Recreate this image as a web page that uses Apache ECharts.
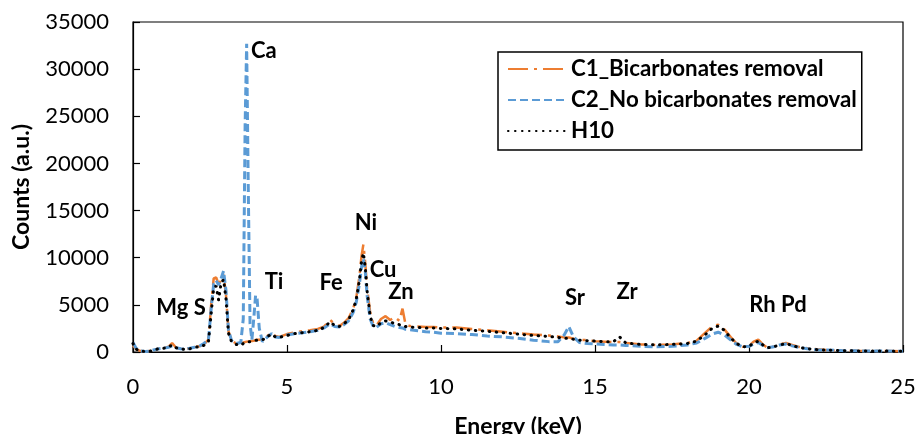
<!DOCTYPE html>
<html>
<head>
<meta charset="utf-8">
<script src="https://cdn.jsdelivr.net/npm/echarts@6/dist/echarts.min.js"></script>
<style>
  html, body { margin: 0; padding: 0; background: #fff; }
  #chart { width: 919px; height: 434px; }
</style>
</head>
<body>
<div id="chart"></div>
<script>
// EDXRF spectra: energy (keV) grid shared by the three samples
const energy = [
  0, 0.1, 0.25, 0.4, 0.55, 0.7, 0.85, 1.0, 1.15, 1.27,
  1.4, 1.55, 1.7, 1.85, 2.0, 2.15, 2.3, 2.45, 2.55, 2.62,
  2.7, 2.78, 2.86, 2.94, 3.02, 3.1, 3.2, 3.35, 3.5, 3.58,
  3.64, 3.69, 3.74, 3.8, 3.86, 3.92, 3.98, 4.03, 4.1, 4.2,
  4.3, 4.4, 4.5, 4.62, 4.75, 5.0, 5.25, 5.5, 5.75, 6.0,
  6.2, 6.4, 6.55, 6.7, 6.85, 7.0, 7.15, 7.25, 7.35, 7.42,
  7.48, 7.54, 7.6, 7.7, 7.8, 7.9, 8.05, 8.2, 8.35, 8.5,
  8.65, 8.75, 8.85, 9.0, 9.25, 9.5, 9.75, 10.0, 10.5, 11.0,
  11.5, 12.0, 12.5, 13.0, 13.5, 13.8, 14.0, 14.15, 14.3, 14.5,
  14.75, 15.0, 15.3, 15.6, 15.8, 16.0, 16.5, 17.0, 17.5, 18.0,
  18.3, 18.6, 18.8, 19.0, 19.2, 19.4, 19.6, 19.8, 20.0, 20.15,
  20.3, 20.45, 20.6, 20.8, 21.0, 21.2, 21.4, 21.6, 21.9, 22.2,
  22.5, 23.0, 23.5, 24.0, 24.5, 25.0
];

// C1_Bicarbonates removal
const countsC1 = [
  700, 300, 100, 50, 100, 300, 350, 400, 550, 950,
  450, 350, 300, 400, 550, 600, 800, 1300, 5500, 7800,
  7900, 7200, 7600, 8200, 6000, 2200, 1200, 900, 900, 1000,
  1050, 1100, 1100, 1150, 1200, 1200, 1250, 1300, 1300, 1350,
  1500, 1800, 2000, 1700, 1600, 1900, 2100, 2200, 2300, 2450,
  2700, 3400, 2950, 2750, 3100, 3600, 4600, 5800, 8000, 10200,
  11400, 9500, 6800, 4200, 3000, 2800, 3500, 3800, 3400, 3700,
  3300, 4600, 2900, 2750, 2700, 2650, 2650, 2600, 2600, 2450,
  2300, 2150, 2000, 1850, 1750, 1650, 1550, 1550, 1400, 1300,
  1250, 1150, 1100, 1050, 1050, 950, 800, 750, 800, 950,
  1200, 2100, 2700, 2900, 2400, 1600, 900, 550, 650, 1100,
  1300, 800, 450, 550, 800, 950, 750, 550, 400, 300,
  200, 150, 120, 100, 100, 80
];

// C2_No bicarbonates removal
const countsC2 = [
  1000, 400, 100, 50, 100, 250, 350, 400, 500, 650,
  450, 350, 300, 400, 500, 600, 900, 1300, 5000, 7200,
  7600, 7100, 7800, 8600, 6500, 2300, 1200, 900, 1000, 3500,
  24000, 32700, 18000, 3000, 1300, 3500, 6000, 5600, 2500, 1100,
  1400, 1700, 1950, 1600, 1550, 1800, 1950, 2050, 2150, 2300,
  2550, 3000, 2700, 2650, 2900, 3300, 4200, 5300, 7200, 9000,
  9900, 8600, 6000, 3500, 2700, 2600, 3000, 3100, 2900, 2700,
  2600, 2550, 2400, 2350, 2250, 2150, 2100, 2000, 1950, 1850,
  1700, 1600, 1450, 1250, 1100, 1100, 1800, 2700, 1600, 1000,
  900, 850, 800, 750, 750, 700, 600, 550, 600, 750,
  950, 1500, 1900, 2100, 1800, 1300, 800, 550, 600, 850,
  1000, 700, 450, 550, 750, 850, 650, 500, 350, 250,
  200, 150, 120, 100, 100, 80
];

// H10
const countsH10 = [
  900, 300, 100, 50, 80, 250, 350, 400, 500, 750,
  450, 350, 250, 350, 500, 550, 700, 1100, 4500, 6800,
  7000, 5500, 7300, 7700, 5600, 2000, 1100, 800, 700, 900,
  1000, 1050, 1100, 1100, 1150, 1200, 1200, 1250, 1250, 1300,
  1400, 1700, 1900, 1600, 1550, 1750, 1950, 2050, 2150, 2300,
  2600, 3200, 2800, 2700, 3000, 3400, 4500, 5600, 7600, 9600,
  10500, 9000, 6500, 3800, 2800, 2700, 3100, 3300, 3200, 3000,
  2900, 2900, 2700, 2650, 2600, 2550, 2550, 2500, 2450, 2300,
  2200, 2050, 1900, 1750, 1650, 1550, 1450, 1450, 1350, 1250,
  1200, 1150, 1100, 1100, 1600, 950, 800, 750, 800, 900,
  1150, 1900, 2500, 2750, 2300, 1500, 900, 550, 600, 950,
  1150, 750, 450, 550, 750, 900, 700, 500, 350, 250,
  200, 150, 120, 100, 100, 80
];

// Element annotations: name, energy position, count position
const peakNames  = ['Ca', 'Ti', 'Mg S', 'Fe', 'Ni', 'Cu', 'Zn', 'Sr', 'Zr', 'Rh Pd'];
const peakEnergy = [4.25, 4.58, 1.56, 6.43, 7.56, 8.12, 8.7, 14.35, 16.04, 20.94];
const peakCounts = [31900, 7420, 4670, 7300, 13680, 8700, 6360, 5730, 6360, 4980];

const seriesNames = ['C1_Bicarbonates removal', 'C2_No bicarbonates removal', 'H10'];

const FONT = 'Lato';
const pair = arr => energy.map((e, i) => [e, arr[i]]);

const chart = echarts.init(document.getElementById('chart'), null, { renderer: 'canvas' });

chart.setOption({
  animation: false,
  backgroundColor: '#fff',
  grid: {
    left: 133, right: 16, top: 22, bottom: 82,
    outerBoundsMode: 'none',
    show: true, borderColor: '#000', borderWidth: 1.2
  },
  legend: {
    data: seriesNames,
    orient: 'vertical',
    left: 498, top: 52,
    padding: [6, 5, 8, 9],
    itemWidth: 58, itemHeight: 14, itemGap: 9,
    borderColor: '#000', borderWidth: 1.5,
    itemStyle: { opacity: 0 },
    lineStyle: { opacity: 1 },
    textStyle: { fontFamily: FONT, fontWeight: 'bold', fontSize: 22.3, color: '#000' }
  },
  xAxis: {
    type: 'value', min: 0, max: 25, interval: 5,
    name: 'Energy (keV)', nameLocation: 'middle', nameGap: 63,
    nameTextStyle: { fontFamily: FONT, fontWeight: 'bold', fontSize: 23, color: '#000' },
    axisLine: { lineStyle: { color: '#000', width: 1.2 } },
    axisTick: { inside: true, length: 7, lineStyle: { color: '#000', width: 1.2 } },
    axisLabel: { margin: 24, fontFamily: FONT, fontSize: 22, color: '#000' },
    splitLine: { show: false }
  },
  yAxis: {
    type: 'value', min: 0, max: 35000, interval: 5000,
    name: 'Counts (a.u.)', nameLocation: 'middle', nameGap: 100,
    nameTextStyle: { fontFamily: FONT, fontWeight: 'bold', fontSize: 23, color: '#000' },
    axisLine: { show: true, lineStyle: { color: '#000', width: 1.2 } },
    axisTick: { show: true, inside: true, length: 7, lineStyle: { color: '#000', width: 1.2 } },
    axisLabel: { margin: 24, fontFamily: FONT, fontSize: 22, color: '#000', formatter: v => String(v) },
    splitLine: { show: false }
  },
  series: [
    {
      name: seriesNames[0], type: 'line', symbol: 'none', z: 2,
      data: pair(countsC1),
      lineStyle: { color: '#ED7D31', width: 2.5, type: [20, 6, 3, 6] },
      itemStyle: { color: '#ED7D31' }
    },
    {
      name: seriesNames[1], type: 'line', symbol: 'none', z: 3,
      data: pair(countsC2),
      lineStyle: { color: '#5B9BD5', width: 3, type: [8, 4] },
      itemStyle: { color: '#5B9BD5' }
    },
    {
      name: seriesNames[2], type: 'line', symbol: 'none', z: 4,
      data: pair(countsH10),
      lineStyle: { color: '#000', width: 3, type: [0.5, 6.5], cap: 'round' },
      itemStyle: { color: '#000' }
    },
    {
      name: 'peaks', type: 'scatter', symbolSize: 0, z: 5,
      itemStyle: { color: '#000' },
      data: peakNames.map((n, i) => ({ name: n, value: [peakEnergy[i], peakCounts[i]] })),
      label: {
        show: true, position: 'top', distance: 0, offset: [0, 11], formatter: '{b}',
        fontFamily: FONT, fontWeight: 'bold', fontSize: 22, color: '#000',
        opacity: 1, textBorderWidth: 0
      },
      emphasis: { disabled: true },
      silent: true
    }
  ]
});
</script>
</body>
</html>
